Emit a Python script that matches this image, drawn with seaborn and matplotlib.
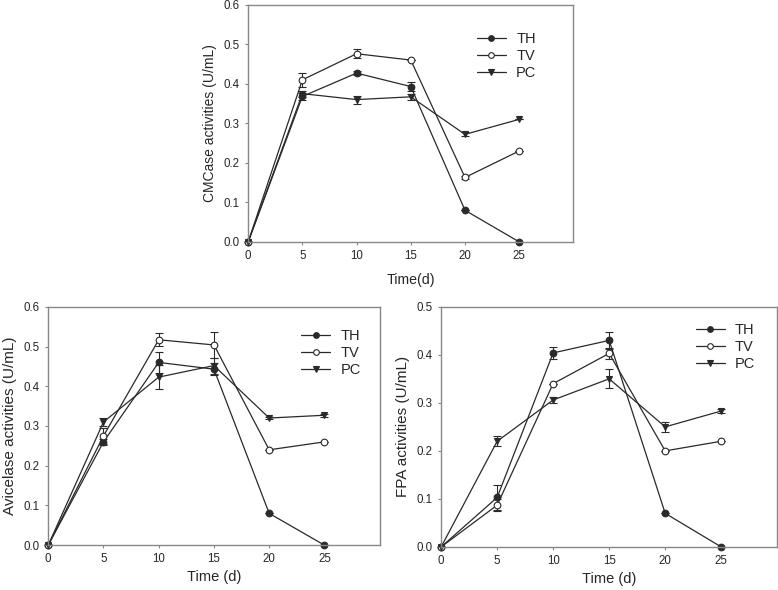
import numpy as np
import pandas as pd
import seaborn as sns
import matplotlib
matplotlib.use("Agg")
import matplotlib.pyplot as plt

days = [0, 5, 10, 15, 20, 25]
series = ["TH", "TV", "PC"]

# CMCase
cmc_th = [0.0, 0.368, 0.427, 0.393, 0.080, 0.0]
cmc_th_err = [0.0, 0.008, 0.005, 0.012, 0.0, 0.0]
cmc_tv = [0.0, 0.410, 0.476, 0.460, 0.163, 0.230]
cmc_tv_err = [0.0, 0.017, 0.012, 0.0, 0.004, 0.0]
cmc_pc = [0.0, 0.375, 0.360, 0.367, 0.272, 0.310]
cmc_pc_err = [0.0, 0.008, 0.010, 0.007, 0.005, 0.0]

# Avicelase
avi_th = [0.0, 0.260, 0.460, 0.443, 0.080, 0.0]
avi_th_err = [0.0, 0.007, 0.027, 0.015, 0.0, 0.0]
avi_tv = [0.0, 0.275, 0.517, 0.504, 0.240, 0.260]
avi_tv_err = [0.0, 0.020, 0.016, 0.033, 0.0, 0.0]
avi_pc = [0.0, 0.310, 0.423, 0.452, 0.320, 0.327]
avi_pc_err = [0.0, 0.010, 0.031, 0.020, 0.003, 0.004]

# FPA
fpa_th = [0.0, 0.103, 0.404, 0.430, 0.070, 0.0]
fpa_th_err = [0.0, 0.026, 0.012, 0.018, 0.0, 0.0]
fpa_tv = [0.0, 0.087, 0.340, 0.403, 0.200, 0.220]
fpa_tv_err = [0.0, 0.013, 0.0, 0.012, 0.0, 0.0]
fpa_pc = [0.0, 0.220, 0.306, 0.350, 0.250, 0.283]
fpa_pc_err = [0.0, 0.010, 0.006, 0.020, 0.010, 0.005]

sns.set_style("ticks")
plt.rcParams["font.family"] = ["Liberation Sans", "DejaVu Sans"]

line_col = "#2a2a2a"
spine_col = "#888888"
styles = {
    "TH": dict(marker="o", markerfacecolor=line_col),
    "TV": dict(marker="o", markerfacecolor="white"),
    "PC": dict(marker="v", markerfacecolor=line_col),
}


def draw_panel(ax, vals, errs, ylim, yticks, ylabel, xlabel, leg_anchor, ylab_fs, xlab_fs, xpad):
    for name, v, e in zip(series, vals, errs):
        df = pd.DataFrame({"day": days, "val": v})
        sns.lineplot(data=df, x="day", y="val", ax=ax, color=line_col, linewidth=0.9,
                     markersize=4.8, markeredgecolor=line_col, markeredgewidth=0.8,
                     label=name, clip_on=False, **styles[name])
        ax.errorbar(days, v, yerr=e, fmt="none", ecolor=line_col, elinewidth=0.8,
                    capsize=3, capthick=0.8, zorder=1)
    ax.set_xlim(0, 30)
    ax.set_ylim(*ylim)
    ax.set_xticks([0, 5, 10, 15, 20, 25])
    ax.set_yticks(yticks)
    ax.set_yticklabels([f"{t:.1f}" for t in yticks])
    ax.tick_params(labelsize=8.3, length=2.5, width=0.8, color=spine_col)
    for s in ax.spines.values():
        s.set_color(spine_col)
        s.set_linewidth(1.0)
    ax.set_xlabel(xlabel, fontsize=xlab_fs, labelpad=xpad)
    ax.set_ylabel(ylabel, fontsize=ylab_fs, labelpad=5)
    ax.legend(frameon=False, loc="upper left", bbox_to_anchor=leg_anchor,
              fontsize=10.5, handlelength=2.0, handletextpad=0.7, labelspacing=0.2,
              borderaxespad=0, markerscale=0.85)


fig = plt.figure(figsize=(7.78, 5.90), dpi=100)
ax1 = fig.add_axes([0.319, 0.590, 0.418, 0.402])
ax2 = fig.add_axes([0.062, 0.076, 0.426, 0.404])
ax3 = fig.add_axes([0.567, 0.073, 0.432, 0.407])

draw_panel(ax1, [cmc_th, cmc_tv, cmc_pc], [cmc_th_err, cmc_tv_err, cmc_pc_err],
           (0, 0.6), [0.0, 0.1, 0.2, 0.3, 0.4, 0.5, 0.6],
           "CMCase activities (U/mL)", "Time(d)", (0.685, 0.91), 10, 10.2, 8)
draw_panel(ax2, [avi_th, avi_tv, avi_pc], [avi_th_err, avi_tv_err, avi_pc_err],
           (0, 0.6), [0.0, 0.1, 0.2, 0.3, 0.4, 0.5, 0.6],
           "Avicelase activities (U/mL)", "Time (d)", (0.745, 0.93), 11, 10.5, 3.5)
draw_panel(ax3, [fpa_th, fpa_tv, fpa_pc], [fpa_th_err, fpa_tv_err, fpa_pc_err],
           (0, 0.5), [0.0, 0.1, 0.2, 0.3, 0.4, 0.5],
           "FPA activities (U/mL)", "Time (d)", (0.74, 0.955), 11, 10.5, 3.5)

fig.savefig("out.png", dpi=100)
